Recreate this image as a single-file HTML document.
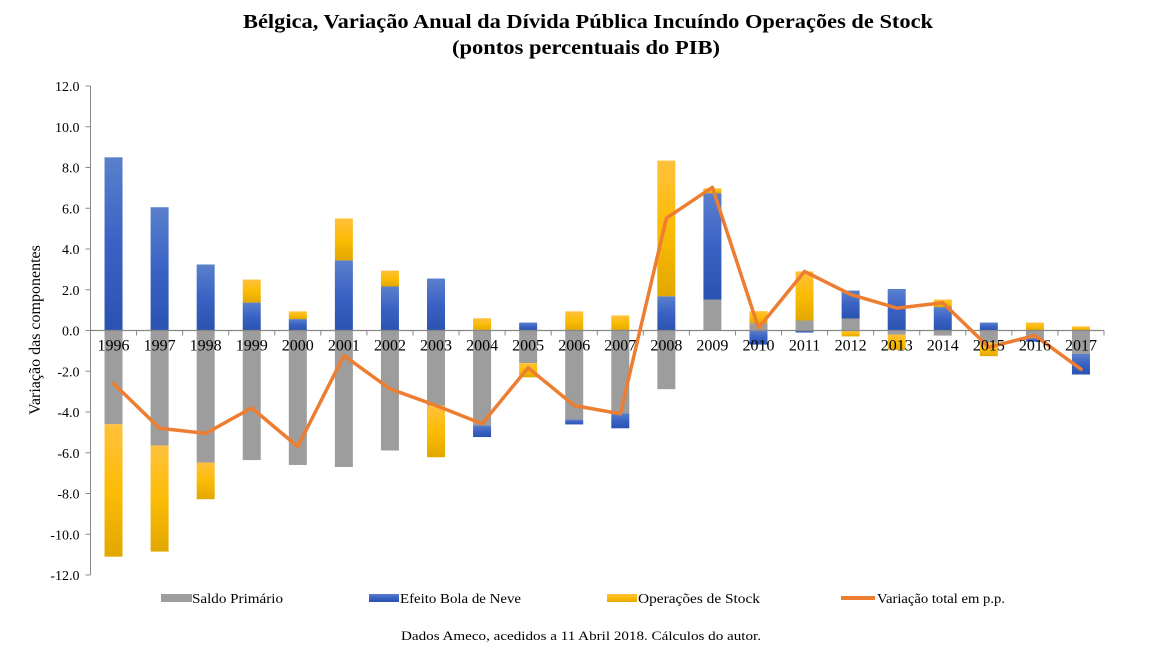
<!DOCTYPE html>
<html><head><meta charset="utf-8"><style>
html,body{margin:0;padding:0;background:#fff;}
svg{display:block;font-family:"Liberation Serif",serif;}
</style></head><body>
<svg id="chart" width="1172" height="651" viewBox="0 0 1172 651">
<defs>
<linearGradient id="gBlue" x1="0" y1="0" x2="0" y2="1"><stop offset="0" stop-color="#5a80cc"/><stop offset="0.5" stop-color="#3a62c4"/><stop offset="1" stop-color="#2a53b0"/></linearGradient>
<linearGradient id="gYel" x1="0" y1="0" x2="0" y2="1"><stop offset="0" stop-color="#ffc13c"/><stop offset="0.5" stop-color="#fcbc05"/><stop offset="1" stop-color="#e2a800"/></linearGradient>
</defs>
<text x="243" y="28" font-size="20" font-weight="bold" textLength="690" lengthAdjust="spacingAndGlyphs">Bélgica, Variação Anual da Dívida Pública Incuíndo Operações de Stock</text>
<text x="452" y="54" font-size="20" font-weight="bold" textLength="268" lengthAdjust="spacingAndGlyphs">(pontos percentuais do PIB)</text>
<text transform="translate(40,330) rotate(-90)" text-anchor="middle" font-size="16">Variação das componentes</text>
<g id="grid"></g><g id="bars"></g><g id="axes"></g><g id="line"></g><g id="xlabels"></g>
<g>
<rect x="161" y="594" width="31" height="8" fill="#9d9d9d"/>
<text x="192" y="603" font-size="14" textLength="91" lengthAdjust="spacingAndGlyphs">Saldo Primário</text>
<rect x="369" y="594" width="30" height="8" fill="url(#gBlue)"/>
<text x="400" y="603" font-size="14" textLength="121" lengthAdjust="spacingAndGlyphs">Efeito Bola de Neve</text>
<rect x="607" y="594" width="30" height="8" fill="url(#gYel)"/>
<text x="638" y="603" font-size="14" textLength="122" lengthAdjust="spacingAndGlyphs">Operações de Stock</text>
<line x1="841" y1="598" x2="875" y2="598" stroke="#ed7d31" stroke-width="4"/>
<text x="877" y="603" font-size="14" textLength="128" lengthAdjust="spacingAndGlyphs">Variação total em p.p.</text>
</g>
<text x="401" y="640" font-size="13" textLength="360" lengthAdjust="spacingAndGlyphs">Dados Ameco, acedidos a 11 Abril 2018. Cálculos do autor.</text>
</svg>
<script>
const years = ["1996","1997","1998","1999","2000","2001","2002","2003","2004","2005","2006","2007","2008","2009","2010","2011","2012","2013","2014","2015","2016","2017"];
const saldo = [-4.6,-5.65,-6.48,-6.36,-6.6,-6.7,-5.89,-3.68,-4.66,-1.6,-4.37,-4.06,-2.88,1.52,0.36,0.49,0.59,-0.2,-0.25,-0.59,-0.39,-1.15];
const bola = [8.5,6.05,3.24,1.37,0.56,3.44,2.16,2.55,-0.57,0.39,-0.24,-0.74,1.68,5.22,-0.69,-0.1,1.37,2.04,1.15,0.39,-0.16,-1.01];
const stock = [-6.5,-5.2,-1.8,1.13,0.38,2.06,0.78,-2.54,0.6,-0.7,0.94,0.74,6.66,0.24,0.59,2.41,-0.29,-0.75,0.37,-0.67,0.39,0.2];
const total = [-2.6,-4.8,-5.05,-3.8,-5.7,-1.23,-2.86,-3.68,-4.58,-1.83,-3.68,-4.09,5.51,7.03,0.13,2.9,1.77,1.1,1.36,-0.82,-0.25,-1.9];
const yTicks = [12,10,8,6,4,2,0,-2,-4,-6,-8,-10,-12];

const NS="http://www.w3.org/2000/svg";
const L=90.5, R=1104, T=86, B=575, yMax=12, yMin=-12;
const step=(R-L)/years.length, bw=18;
const y=v=>T+(yMax-v)*(B-T)/(yMax-yMin);
const xc=i=>L+step*(i+0.5);
function mk(tag,attrs,parent){const e=document.createElementNS(NS,tag);for(const k in attrs)e.setAttribute(k,attrs[k]);parent.appendChild(e);return e;}
const gBars=document.getElementById('bars'),gAx=document.getElementById('axes'),gLine=document.getElementById('line'),gX=document.getElementById('xlabels');

years.forEach((yr,i)=>{
  let pos=0,neg=0;
  const series=[[saldo[i],'#9d9d9d','saldo'],[bola[i],'url(#gBlue)','bola'],[stock[i],'url(#gYel)','stock']];
  series.forEach(([v,fill,nm])=>{
    let a,b;
    if(v>=0){a=pos;b=pos+v;pos=b;}else{a=neg;b=neg+v;neg=b;}
    const r=mk('rect',{x:xc(i)-bw/2,y:Math.min(y(a),y(b)),width:bw,height:Math.abs(y(a)-y(b)),fill:fill},gBars);
    
    
  });
});

const ya=mk('line',{x1:L,y1:T,x2:L,y2:B,stroke:'#888','stroke-width':1},gAx);


yTicks.forEach(t=>{
  mk('line',{x1:L-5,y1:y(t),x2:L,y2:y(t),stroke:'#888'},gAx);
  const tx=mk('text',{x:L-11,y:y(t)+5,'text-anchor':'end','font-size':14},gAx);
  tx.textContent=t.toFixed(1);
  
  
});
const xa=mk('line',{x1:L,y1:y(0),x2:R,y2:y(0),stroke:'#888','stroke-width':1.2},gAx);


for(let i=0;i<=years.length;i++) mk('line',{x1:L+step*i,y1:y(0),x2:L+step*i,y2:y(0)+5,stroke:'#888'},gAx);

const pts=total.map((v,i)=>xc(i).toFixed(1)+','+y(v).toFixed(1)).join(' ');
const pl=mk('polyline',{points:pts,fill:'none',stroke:'#ed7d31','stroke-width':3.5,'stroke-linejoin':'round','stroke-linecap':'round'},gLine);



years.forEach((yr,i)=>{
  const t=mk('text',{x:xc(i),y:y(0)+20,'text-anchor':'middle','font-size':16},gX);
  t.textContent=yr;
  
  
});
</script>
</body></html>
